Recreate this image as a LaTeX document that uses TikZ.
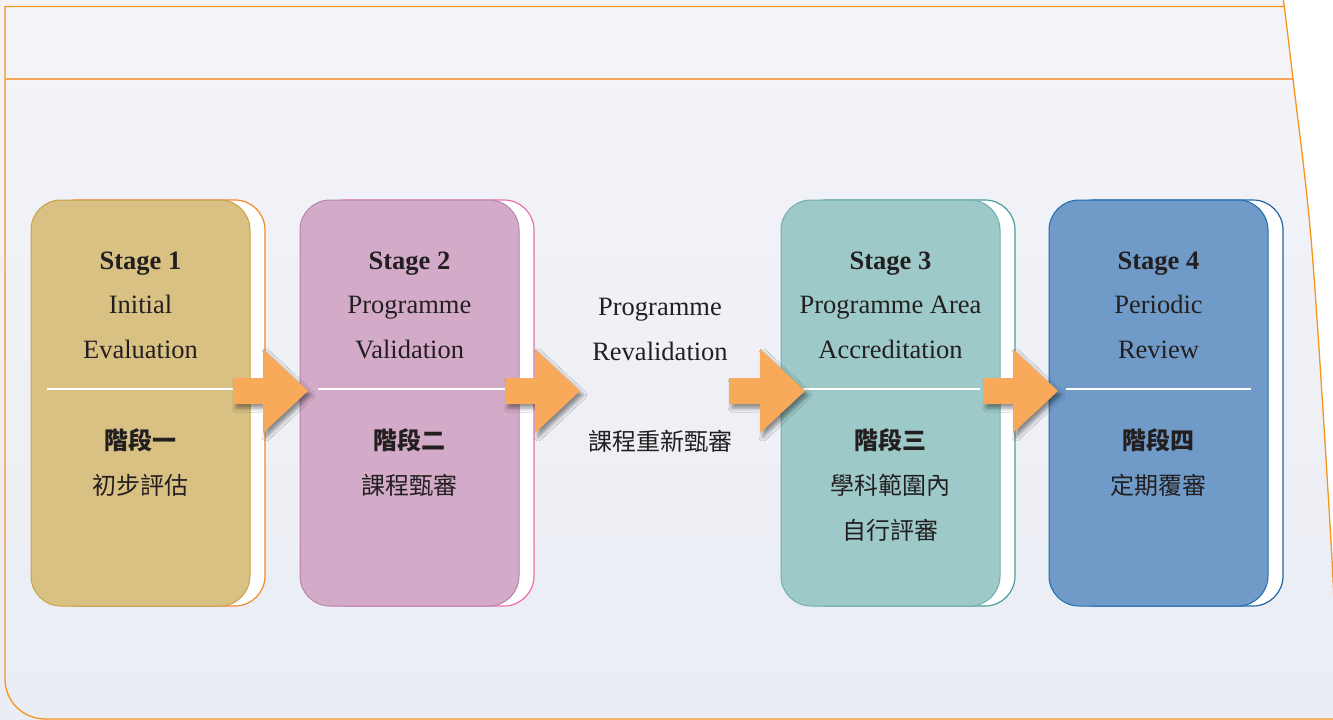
\documentclass[tikz,border=0pt]{standalone}
\usepackage{fontspec}
\setmainfont{Liberation Serif}
\newfontfamily\cjk{Noto Sans CJK TC}
\usetikzlibrary{shadows.blur}
\definecolor{bgc}{HTML}{F4F4F8}
\definecolor{bgb}{HTML}{EAEDF4}
\definecolor{framec}{HTML}{F7941D}
\definecolor{headc}{HTML}{F8A55A}
\definecolor{arrc}{HTML}{F9A95A}
\definecolor{txtc}{HTML}{231F20}
\definecolor{tanfill}{HTML}{D9C184}
\definecolor{tanline}{HTML}{C8A24A}
\definecolor{tanback}{HTML}{F0892A}
\definecolor{pinkfill}{HTML}{D3ABC8}
\definecolor{pinkline}{HTML}{B883AE}
\definecolor{pinkback}{HTML}{EC6FAC}
\definecolor{tealfill}{HTML}{9DCAC8}
\definecolor{tealline}{HTML}{6FB0AD}
\definecolor{tealback}{HTML}{4E9B99}
\definecolor{bluefill}{HTML}{709BC8}
\definecolor{blueline}{HTML}{1F6DB0}
\definecolor{blueback}{HTML}{1F65A8}
\tikzset{
  frontbox/.style={rounded corners=30pt, minimum width=219pt, minimum height=406pt, line width=1pt, inner sep=0pt},
  backbox/.style={rounded corners=30pt, minimum width=219pt, minimum height=406pt, line width=1.2pt, fill=white, inner sep=0pt},
  sepline/.style={white, line width=2.5pt},
  orarrow/.style={fill=arrc, blur shadow={shadow xshift=3pt, shadow yshift=-4pt, shadow blur radius=4pt, shadow opacity=45}},
  entxt/.style={anchor=base, text=txtc, font=\fontsize{26.5}{30}\selectfont, inner sep=0pt},
  enbold/.style={entxt, font=\fontsize{26.5}{30}\selectfont\bfseries},
  zhtxt/.style={anchor=base, text=txtc, font=\fontsize{24}{30}\selectfont\cjk, inner sep=0pt},
  zhbold/.style={zhtxt, font=\fontsize{24}{30}\selectfont\cjk\bfseries},
  framel/.style={framec, line width=1.3pt}
}
\newcommand{\stagearr}[2]{%
  \path[orarrow] (#1,378) -- (#2,378) -- (#2,349) -- ({#2+45},391) -- (#2,433) -- (#2,404) -- (#1,404) -- cycle;}
\begin{document}
\begin{tikzpicture}[x=1pt,y=-1pt]
\useasboundingbox (0,0) rectangle (1333,720);
% background
\shade[top color=bgc, middle color=bgc, bottom color=bgb] (0,0) rectangle (1333,720);
\fill[white] (1283.3,-1) plot[smooth] coordinates {(1283.3,-1) (1293,79) (1312,250) (1332,560) (1338,720)} -- (1340,721) -- (1340,-1) -- cycle;
% frame
\draw[framel] (1284,6.5) -- (5,6.5) -- (5,679) arc[start angle=180, end angle=270, radius=40pt] -- (1340,719);
\draw[framel, headc] (5,79) -- (1293,79);
\draw[framel] plot[smooth] coordinates {(1283.3,-1) (1293,79) (1312,250) (1332,560) (1338,720)};
% back boxes
\node[backbox, draw=tanback] (b1) at (155.5,403) {};
\node[backbox, draw=pinkback] (b2) at (424.5,403) {};
\node[backbox, draw=tealback] (b3) at (905.5,403) {};
\node[backbox, draw=blueback] (b4) at (1173.5,403) {};
% front boxes
\node[frontbox, fill=tanfill, draw=tanline] (s1) at (140.5,403) {};
\node[frontbox, fill=pinkfill, draw=pinkline] (s2) at (409.5,403) {};
\node[frontbox, fill=tealfill, draw=tealline] (s3) at (890.5,403) {};
\node[frontbox, fill=bluefill, draw=blueline] (s4) at (1158.5,403) {};
% separators
\draw[sepline] (47,389) -- (233,389);
\draw[sepline] (318,389) -- (505,389);
\draw[sepline] (803,389) -- (980,389);
\draw[sepline] (1066,389) -- (1251,389);
% arrows
\stagearr{233}{263}
\stagearr{505}{535}
\stagearr{729}{760}
\stagearr{983}{1013}
% texts box 1
\node[enbold] (t1a) at (140.5,269) {Stage 1};
\node[entxt] (t1b) at (140.5,313) {Initial};
\node[entxt] (t1c) at (140.5,358) {Evaluation};
\node[zhbold] (c1a) at (140.5,449) {階段一};
\node[zhtxt] (c1b) at (140.5,494) {初步評估};
% box 2
\node[enbold] (t2a) at (409.5,269) {Stage 2};
\node[entxt] (t2b) at (409.5,313) {Programme};
\node[entxt] (t2c) at (409.5,358) {Validation};
\node[zhbold] (c2a) at (409.5,449) {階段二};
\node[zhtxt] (c2b) at (409.5,494) {課程甄審};
% middle
\node[entxt] (tma) at (660,315) {Programme};
\node[entxt] (tmb) at (660,360) {Revalidation};
\node[zhtxt] (cma) at (660,450) {課程重新甄審};
% box 3
\node[enbold] (t3a) at (890.5,269) {Stage 3};
\node[entxt] (t3b) at (890.5,313) {Programme Area};
\node[entxt] (t3c) at (890.5,358) {Accreditation};
\node[zhbold] (c3a) at (890.5,449) {階段三};
\node[zhtxt] (c3b) at (890.5,494) {學科範圍內};
\node[zhtxt] (c3c) at (890.5,539) {自行評審};
% box 4
\node[enbold] (t4a) at (1158.5,269) {Stage 4};
\node[entxt] (t4b) at (1158.5,313) {Periodic};
\node[entxt] (t4c) at (1158.5,358) {Review};
\node[zhbold] (c4a) at (1158.5,449) {階段四};
\node[zhtxt] (c4b) at (1158.5,494) {定期覆審};
\end{tikzpicture}
\end{document}
